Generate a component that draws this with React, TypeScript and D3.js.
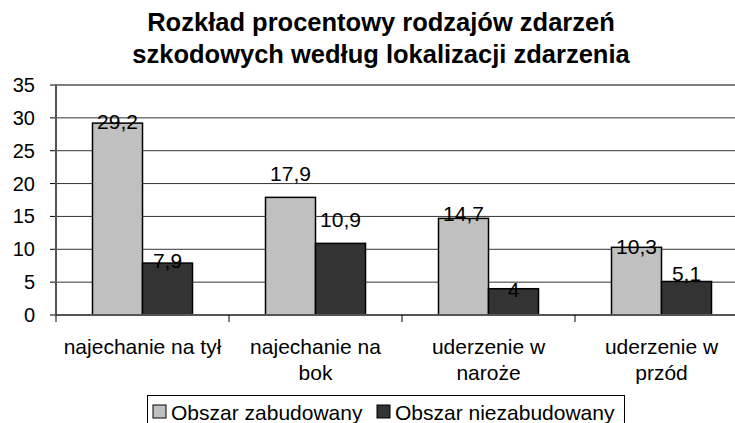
import * as d3 from "d3";

const categories = ["najechanie na tył", "najechanie na\nbok", "uderzenie w\nnaroże", "uderzenie w\nprzód"];
const seriesNames = ["Obszar zabudowany", "Obszar niezabudowany"];
const builtUp = [29.2, 17.9, 14.7, 10.3];
const notBuiltUp = [7.9, 10.9, 4, 5.1];
const yTicks = [0, 5, 10, 15, 20, 25, 30, 35];
// baseline shift of each data label vs. the top of its bar (px)
const labelShiftA = [6, -16, 3, 7];
const labelShiftB = [5, -16, 8, 0];

const W = 735;
const H = 423;
const FONT = "'Liberation Sans', Arial, sans-serif";
const colors = ["#c0c0c0", "#333333"];

export default function App() {
  const left = 56, right = 748, top = 85, bottom = 315;

  const y = d3.scaleLinear().domain([0, 35]).range([bottom, top]);
  const x0 = d3.scaleBand<string>().domain(categories).range([left, right]);
  const x1 = d3.scaleBand<string>().domain(seriesNames).range([0, x0.bandwidth()]).paddingOuter(0.73);

  const values = [builtUp, notBuiltUp];
  const shifts = [labelShiftA, labelShiftB];
  const fmt = (v: number) => String(v).replace(".", ",");

  return (
    <div style={{ position: "fixed", left: 0, top: 0 }}>
      <svg width={W} height={H} style={{ display: "block", background: "#fff" }} fontFamily={FONT}>
        <text x={381} y={31} textAnchor="middle" fontSize={25.5} fontWeight="bold">Rozkład procentowy rodzajów zdarzeń</text>
        <text x={381} y={63} textAnchor="middle" fontSize={25.5} fontWeight="bold">szkodowych według lokalizacji zdarzenia</text>

        {yTicks.map((t) => (
          <g key={t}>
            {t > 0 && t < 35 && (
              <line x1={left} x2={right} y1={y(t)} y2={y(t)} stroke="#333" strokeWidth={1} />
            )}
            <line x1={left - 6} x2={left} y1={y(t)} y2={y(t)} stroke="#000" />
            <text x={35} y={y(t) + 7} textAnchor="end" fontSize={20}>{t}</text>
          </g>
        ))}
        <line x1={left} x2={right} y1={y(35)} y2={y(35)} stroke="#808080" strokeWidth={2} />

        {categories.map((c, ci) => (
          <g key={c} transform={`translate(${x0(c)},0)`}>
            {seriesNames.map((s, si) => {
              const v = values[si][ci];
              const bx = x1(s)!;
              return (
                <g key={s}>
                  <rect x={bx} y={y(v)} width={x1.bandwidth()} height={y(0) - y(v)} fill={colors[si]} stroke="#000" strokeWidth={1.5} />
                  <text x={bx + x1.bandwidth() / 2} y={y(v) + shifts[si][ci]} textAnchor="middle" fontSize={21}>{fmt(v)}</text>
                </g>
              );
            })}
          </g>
        ))}

        <line x1={left} x2={left} y1={top} y2={bottom} stroke="#555" strokeWidth={2} />
        <line x1={left} x2={right} y1={bottom} y2={bottom} stroke="#555" strokeWidth={2} />
        {categories.concat([""]).map((c, i) => {
          const bx = left + i * x0.step();
          return <line key={i} x1={bx} x2={bx} y1={bottom} y2={bottom + 7} stroke="#000" />;
        })}

        {categories.map((c) => (
          <text key={c} x={x0(c)! + x0.bandwidth() / 2} y={354} textAnchor="middle" fontSize={21}>
            {c.split("\n").map((line, li) => (
              <tspan key={li} x={x0(c)! + x0.bandwidth() / 2} dy={li === 0 ? 0 : 26}>{line}</tspan>
            ))}
          </text>
        ))}

        <rect x={147.5} y={395.5} width={477} height={40} fill="#fff" stroke="#000" />
        {seriesNames.map((s, i) => {
          const lx = i === 0 ? 153 : 377;
          return (
            <g key={s}>
              <rect x={lx} y={405} width={13} height={13} fill={colors[i]} stroke="#000" />
              <text x={lx + 18} y={420} fontSize={21}>{s}</text>
            </g>
          );
        })}
      </svg>
    </div>
  );
}
